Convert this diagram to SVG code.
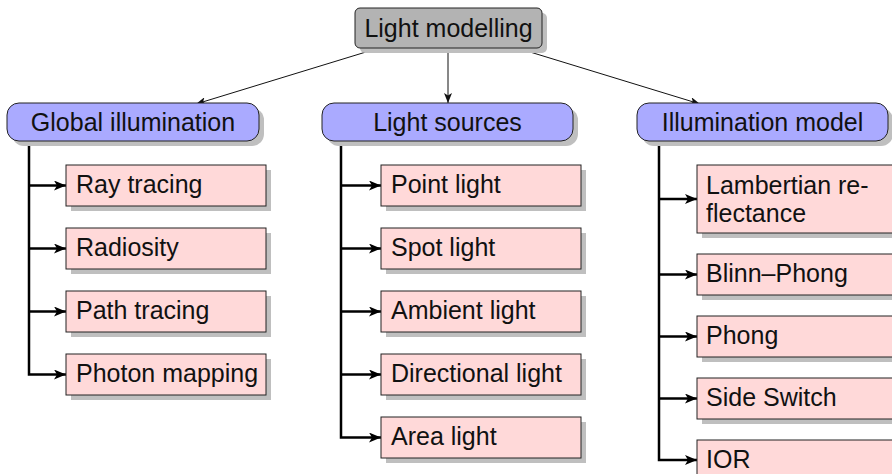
<svg xmlns="http://www.w3.org/2000/svg" width="892" height="474" viewBox="0 0 892 474">
<style>
text{font-family:"Liberation Sans",Arial,sans-serif;font-size:25px;fill:#111}
.c{text-anchor:middle}
.sh{fill:#bfbfbf}
.top{fill:#b3b3b3;stroke:#222;stroke-width:1}
.cat{fill:#aaaaff;stroke:#222;stroke-width:1}
.leaf{fill:#ffd9d9;stroke:#222;stroke-width:1}
.thin{stroke:#111;stroke-width:1;fill:none}
.tree{stroke:#000;stroke-width:2.5;fill:none}
</style>
<defs>
<marker id="a1" viewBox="0 0 10 8" refX="10" refY="4" markerWidth="10" markerHeight="8" markerUnits="userSpaceOnUse" orient="auto"><path d="M0,0 L10,4 L0,8 L2.5,4 Z" fill="#111"/></marker>
<marker id="a2" viewBox="0 0 12 10" refX="12" refY="5" markerWidth="13" markerHeight="10" markerUnits="userSpaceOnUse" orient="auto"><path d="M0,0 L12,5 L0,10 L3,5 Z" fill="#000"/></marker>
</defs>

<g id="connectors">
<line class="thin" x1="379" y1="48" x2="196" y2="104" marker-end="url(#a1)"/>
<line class="thin" x1="448" y1="48" x2="448" y2="103" marker-end="url(#a1)"/>
<line class="thin" x1="517" y1="48" x2="700" y2="104" marker-end="url(#a1)"/>

<path class="tree" d="M29,142 V374.5 H66" marker-end="url(#a2)"/>
<path class="tree" d="M29,185.5 H66" marker-end="url(#a2)"/>
<path class="tree" d="M29,248.5 H66" marker-end="url(#a2)"/>
<path class="tree" d="M29,311.5 H66" marker-end="url(#a2)"/>

<path class="tree" d="M341,143 V437.5 H381" marker-end="url(#a2)"/>
<path class="tree" d="M341,185.5 H381" marker-end="url(#a2)"/>
<path class="tree" d="M341,248.5 H381" marker-end="url(#a2)"/>
<path class="tree" d="M341,311.5 H381" marker-end="url(#a2)"/>
<path class="tree" d="M341,374.5 H381" marker-end="url(#a2)"/>

<path class="tree" d="M659,142 V460 H697" marker-end="url(#a2)"/>
<path class="tree" d="M659,199 H697" marker-end="url(#a2)"/>
<path class="tree" d="M659,274.5 H697" marker-end="url(#a2)"/>
<path class="tree" d="M659,336.5 H697" marker-end="url(#a2)"/>
<path class="tree" d="M659,398.5 H697" marker-end="url(#a2)"/>
</g>

<g id="light-modelling">
<rect class="sh" x="360" y="13" width="187" height="40" rx="5"/>
<rect class="top" x="355" y="8" width="187" height="40" rx="5"/>
<text class="c" x="448.5" y="36.5">Light modelling</text>
</g>

<g id="global-illumination">
<rect class="sh" x="12" y="108" width="252" height="38" rx="12"/>
<rect class="cat" x="7" y="103" width="252" height="38" rx="12"/>
<text class="c" x="133" y="131">Global illumination</text>
</g>
<g id="light-sources">
<rect class="sh" x="327" y="108" width="251" height="38" rx="12"/>
<rect class="cat" x="322" y="103" width="251" height="38" rx="12"/>
<text class="c" x="447.5" y="131">Light sources</text>
</g>
<g id="illumination-model">
<rect class="sh" x="642" y="108" width="251" height="38" rx="12"/>
<rect class="cat" x="637" y="103" width="251" height="38" rx="12"/>
<text class="c" x="762.5" y="131">Illumination model</text>
</g>

<g id="ray-tracing"><rect class="sh" x="71" y="170" width="200" height="41"/><rect class="leaf" x="66" y="165" width="200" height="41"/><text x="76" y="193">Ray tracing</text></g>
<g id="radiosity"><rect class="sh" x="71" y="233" width="200" height="41"/><rect class="leaf" x="66" y="228" width="200" height="41"/><text x="76" y="256">Radiosity</text></g>
<g id="path-tracing"><rect class="sh" x="71" y="296" width="200" height="41"/><rect class="leaf" x="66" y="291" width="200" height="41"/><text x="76" y="319">Path tracing</text></g>
<g id="photon-mapping"><rect class="sh" x="71" y="359" width="200" height="41"/><rect class="leaf" x="66" y="354" width="200" height="41"/><text x="76" y="382">Photon mapping</text></g>

<g id="point-light"><rect class="sh" x="386" y="170" width="200" height="41"/><rect class="leaf" x="381" y="165" width="200" height="41"/><text x="391" y="193">Point light</text></g>
<g id="spot-light"><rect class="sh" x="386" y="233" width="200" height="41"/><rect class="leaf" x="381" y="228" width="200" height="41"/><text x="391" y="256">Spot light</text></g>
<g id="ambient-light"><rect class="sh" x="386" y="296" width="200" height="41"/><rect class="leaf" x="381" y="291" width="200" height="41"/><text x="391" y="319">Ambient light</text></g>
<g id="directional-light"><rect class="sh" x="386" y="359" width="200" height="41"/><rect class="leaf" x="381" y="354" width="200" height="41"/><text x="391" y="382">Directional light</text></g>
<g id="area-light"><rect class="sh" x="386" y="422" width="200" height="41"/><rect class="leaf" x="381" y="417" width="200" height="41"/><text x="391" y="445">Area light</text></g>

<g id="lambertian"><rect class="sh" x="702" y="170" width="200" height="68"/><rect class="leaf" x="697" y="165" width="200" height="68"/><text x="706" y="194">Lambertian re-</text><text x="706" y="222">flectance</text></g>
<g id="blinn-phong"><rect class="sh" x="702" y="259" width="200" height="41"/><rect class="leaf" x="697" y="254" width="200" height="41"/><text x="706" y="282">Blinn–Phong</text></g>
<g id="phong"><rect class="sh" x="702" y="321" width="200" height="41"/><rect class="leaf" x="697" y="316" width="200" height="41"/><text x="706" y="344">Phong</text></g>
<g id="side-switch"><rect class="sh" x="702" y="383" width="200" height="41"/><rect class="leaf" x="697" y="378" width="200" height="41"/><text x="706" y="406">Side Switch</text></g>
<g id="ior"><rect class="sh" x="702" y="445" width="200" height="41"/><rect class="leaf" x="697" y="440" width="200" height="41"/><text x="706" y="468">IOR</text></g>
</svg>
